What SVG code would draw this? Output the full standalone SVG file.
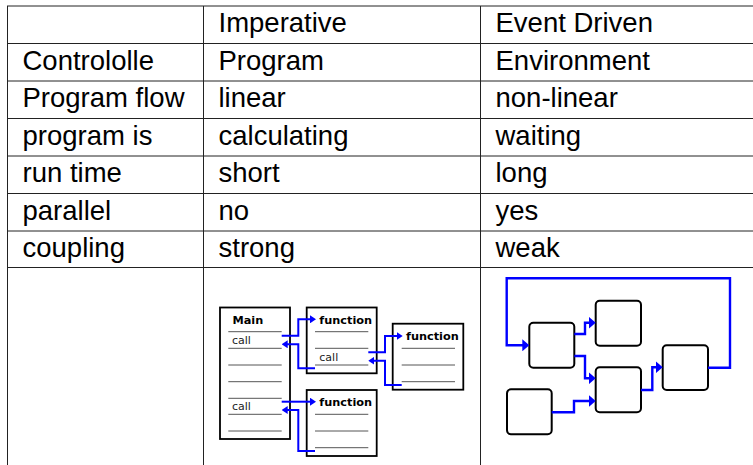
<svg xmlns="http://www.w3.org/2000/svg" width="753" height="465" viewBox="0 0 753 465">
  <style>
    .grid { stroke: #222; stroke-width: 1; fill: none; }
    .cell { font-family: "Liberation Sans", Arial, sans-serif; font-size: 27.5px; fill: #000; }
    .frame { fill: #fff; stroke: #000; stroke-width: 1.8; }
    .rule { stroke: #555; stroke-width: 1; }
    .title { font-family: "DejaVu Sans", sans-serif; font-size: 11.3px; font-weight: bold; fill: #000; }
    .lbl { font-family: "DejaVu Sans", sans-serif; font-size: 11px; fill: #222; }
    .flow { fill: none; stroke: #0000ff; stroke-width: 2; }
    .flow2 { fill: none; stroke: #0000ff; stroke-width: 2.4; }
    .node { fill: #fff; stroke: #000; stroke-width: 2; }
  </style>
  <defs>
    <marker id="tipS" markerUnits="userSpaceOnUse" viewBox="0 0 6 8" markerWidth="6" markerHeight="8" refX="2" refY="4" orient="auto">
      <path d="M0,0 L6,4 L0,8 z" fill="#0000ff"/>
    </marker>
    <marker id="tipL" markerUnits="userSpaceOnUse" viewBox="0 0 7 12" markerWidth="7" markerHeight="12" refX="2" refY="6" orient="auto">
      <path d="M0,0 L7,6 L0,12 z" fill="#0000ff"/>
    </marker>
  </defs>

  <rect width="753" height="465" fill="#fff"/>

  <!-- table grid -->
  <g id="table-grid" class="grid">
    <line x1="7" y1="6" x2="753" y2="6"/>
    <line x1="7" y1="43.5" x2="753" y2="43.5"/>
    <line x1="7" y1="81" x2="753" y2="81"/>
    <line x1="7" y1="118.5" x2="753" y2="118.5"/>
    <line x1="7" y1="156" x2="753" y2="156"/>
    <line x1="7" y1="193.5" x2="753" y2="193.5"/>
    <line x1="7" y1="231" x2="753" y2="231"/>
    <line x1="7" y1="267.5" x2="753" y2="267.5"/>
    <line x1="7.5" y1="6" x2="7.5" y2="465"/>
    <line x1="203.5" y1="6" x2="203.5" y2="465"/>
    <line x1="480.5" y1="6" x2="480.5" y2="465"/>
  </g>

  <!-- table text -->
  <g id="table-text" class="cell">
    <text x="218.5" y="32">Imperative</text>
    <text x="495.5" y="32">Event Driven</text>
    <text x="22.5" y="69.5">Contrololle</text>
    <text x="218.5" y="69.5">Program</text>
    <text x="495.5" y="69.5">Environment</text>
    <text x="22.5" y="107">Program flow</text>
    <text x="218.5" y="107">linear</text>
    <text x="495.5" y="107">non-linear</text>
    <text x="22.5" y="144.5">program is</text>
    <text x="218.5" y="144.5">calculating</text>
    <text x="495.5" y="144.5">waiting</text>
    <text x="22.5" y="182">run time</text>
    <text x="218.5" y="182">short</text>
    <text x="495.5" y="182">long</text>
    <text x="22.5" y="219.5">parallel</text>
    <text x="218.5" y="219.5">no</text>
    <text x="495.5" y="219.5">yes</text>
    <text x="22.5" y="257">coupling</text>
    <text x="218.5" y="257">strong</text>
    <text x="495.5" y="257">weak</text>
  </g>

  <!-- imperative call structure -->
  <g id="main">
    <rect class="frame" x="220" y="307.5" width="70" height="131.5"/>
    <text class="title" x="232.5" y="323.5">Main</text>
    <g class="rule">
      <line x1="228.3" y1="331.7" x2="281.7" y2="331.7"/>
      <line x1="228.3" y1="348.3" x2="281.7" y2="348.3"/>
      <line x1="228.3" y1="365" x2="281.7" y2="365"/>
      <line x1="228.3" y1="381.7" x2="281.7" y2="381.7"/>
      <line x1="228.3" y1="398.3" x2="281.7" y2="398.3"/>
      <line x1="228.3" y1="414.3" x2="281.7" y2="414.3"/>
      <line x1="228.3" y1="431" x2="281.7" y2="431"/>
    </g>
    <text class="lbl" x="232" y="344.3">call</text>
    <text class="lbl" x="232" y="410.3">call</text>
  </g>

  <g id="function-1">
    <rect class="frame" x="306.7" y="307.5" width="70" height="65.8"/>
    <text class="title" x="319.3" y="323.5">function</text>
    <g class="rule">
      <line x1="315" y1="331.7" x2="368.3" y2="331.7"/>
      <line x1="315" y1="348.3" x2="368.3" y2="348.3"/>
      <line x1="315" y1="365" x2="368.3" y2="365"/>
    </g>
    <text class="lbl" x="319.3" y="360.5">call</text>
  </g>

  <g id="function-2">
    <rect class="frame" x="392.7" y="323.7" width="70.6" height="66"/>
    <text class="title" x="406" y="340">function</text>
    <g class="rule">
      <line x1="401.7" y1="348.3" x2="455" y2="348.3"/>
      <line x1="401.7" y1="365" x2="455" y2="365"/>
      <line x1="401.7" y1="381.7" x2="455" y2="381.7"/>
    </g>
  </g>

  <g id="function-3">
    <rect class="frame" x="306.7" y="390" width="70" height="66"/>
    <text class="title" x="319.3" y="405.8">function</text>
    <g class="rule">
      <line x1="315" y1="414.3" x2="368.3" y2="414.3"/>
      <line x1="315" y1="431" x2="368.3" y2="431"/>
      <line x1="315" y1="447.7" x2="368.3" y2="447.7"/>
    </g>
  </g>

  <!-- event driven nodes -->
  <g id="node-a"><rect class="node" x="529.3" y="322.7" width="45" height="45" rx="4"/></g>
  <g id="node-b"><rect class="node" x="595.7" y="300.7" width="45.3" height="45" rx="4"/></g>
  <g id="node-c"><rect class="node" x="595.7" y="367.3" width="45.3" height="45" rx="4"/></g>
  <g id="node-d"><rect class="node" x="662.7" y="345.3" width="45.3" height="44.7" rx="4"/></g>
  <g id="node-e"><rect class="node" x="507" y="389.3" width="44.7" height="45" rx="4"/></g>

  <!-- connectors -->
  <g id="connectors">
    <!-- calls and returns -->
    <path class="flow" d="M281.7,335.7 H298.3 V319.3 H312" marker-end="url(#tipS)"/>
    <path class="flow" d="M315,368.3 H298.3 V344.3 H285.7" marker-end="url(#tipS)"/>
    <path class="flow" d="M368.3,352.3 H385 V336 H398.7" marker-end="url(#tipS)"/>
    <path class="flow" d="M401.7,385 H385 V360.7 H372.3" marker-end="url(#tipS)"/>
    <path class="flow" d="M281.7,401.7 H312" marker-end="url(#tipS)"/>
    <path class="flow" d="M315,451 H298.3 V410 H285.7" marker-end="url(#tipS)"/>
    <!-- events -->
    <path class="flow2" d="M708,367.7 H730 V278.3 H506.7 V345.3 H524.3" marker-end="url(#tipL)"/>
    <path class="flow2" d="M574.3,334 H585 V322.7 H590.7" marker-end="url(#tipL)"/>
    <path class="flow2" d="M574.3,356 H585 V378.3 H590.7" marker-end="url(#tipL)"/>
    <path class="flow2" d="M551.7,412.3 H574 V401 H590.7" marker-end="url(#tipL)"/>
    <path class="flow2" d="M641,390 H652.3 V367.3 H657.7" marker-end="url(#tipL)"/>
  </g>
</svg>
